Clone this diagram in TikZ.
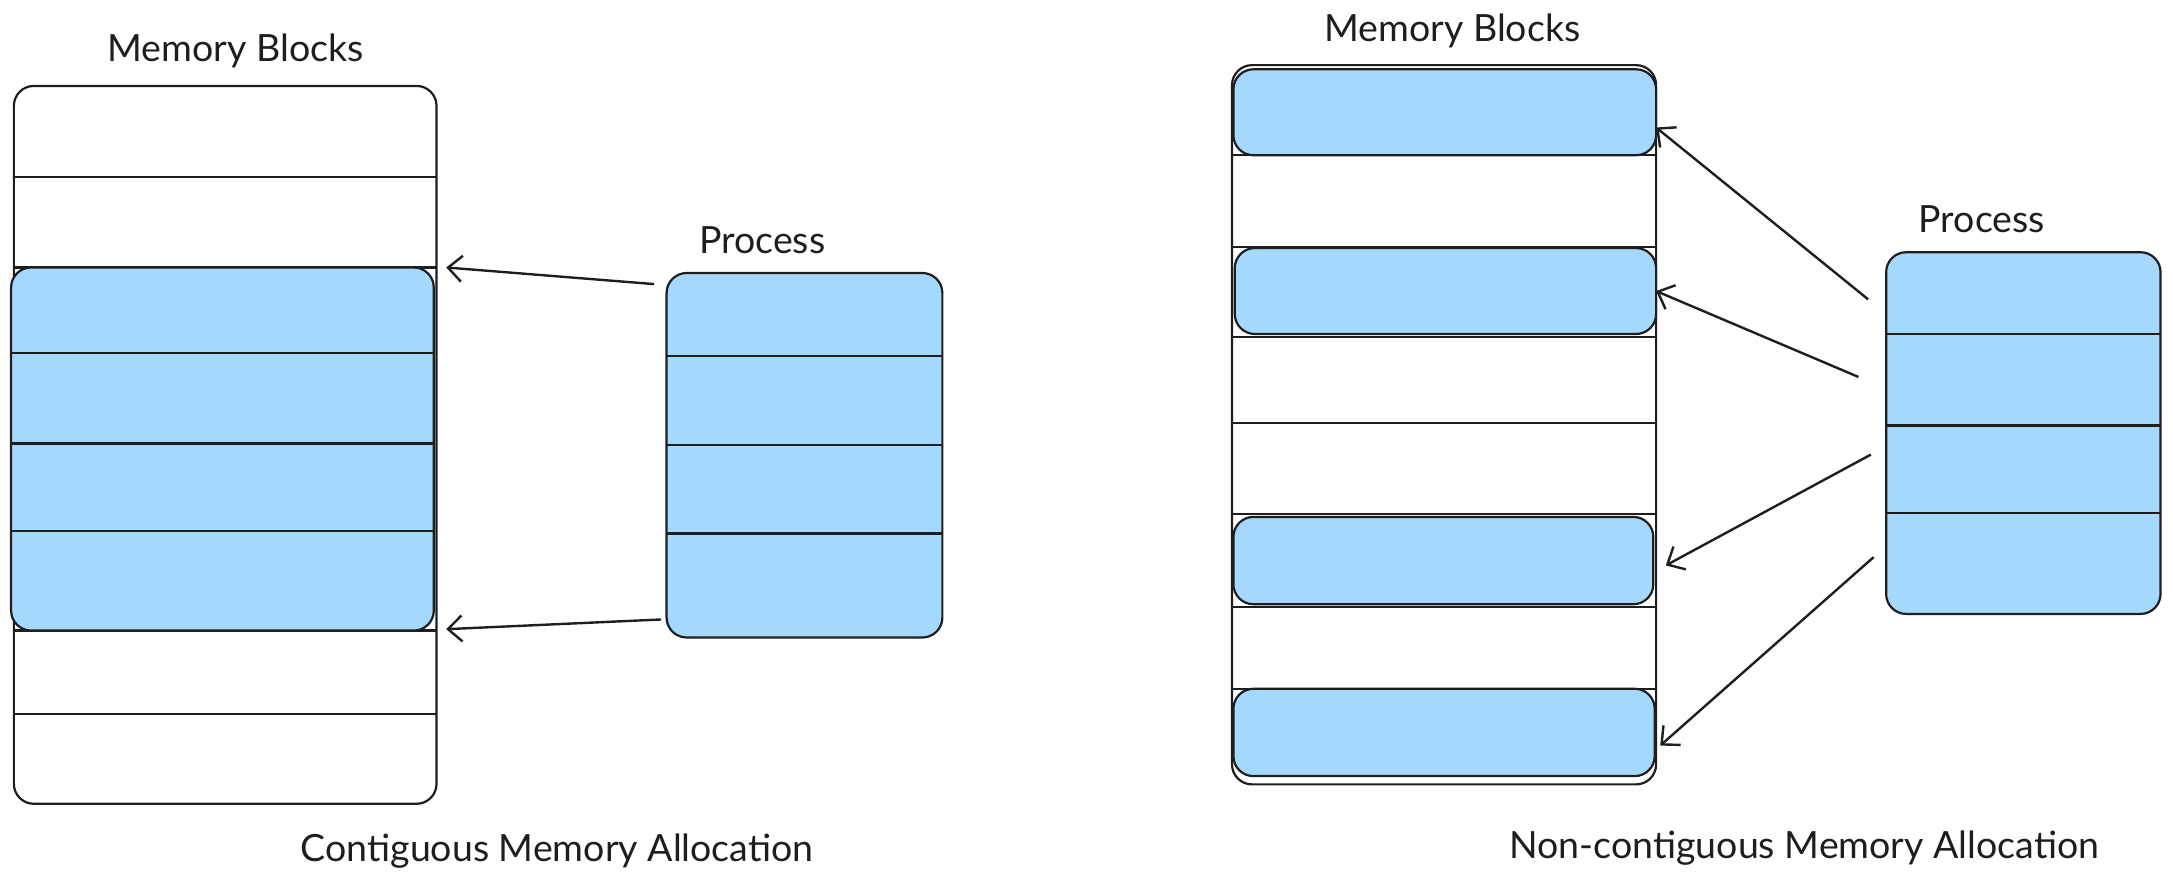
\documentclass[tikz,border=0pt]{standalone}
\usepackage{fontspec}
\setmainfont{Lato}
\usetikzlibrary{arrows.meta}
\definecolor{ink}{HTML}{1E1E1E}
\definecolor{memblue}{HTML}{A5D8FF}
\tikzset{
  box/.style={draw=ink, line width=2.2pt, rounded corners=20pt},
  bluebox/.style={box, fill=memblue},
  row/.style={draw=ink, line width=2.2pt},
  link/.style={draw=ink, line width=2.4pt, -{Straight Barb[length=14pt,width=26pt,line width=2.4pt]}},
  title/.style={font=\fontsize{37.5}{40}\selectfont, text=ink, inner sep=0pt},
}
\begin{document}
\begin{tikzpicture}[x=1.386pt, y=-1.386pt]
\useasboundingbox (0,0) rectangle (1568,640);

% ---------- Left: contiguous ----------
\node[title] (lmt) at (170,37) {Memory Blocks};
\draw[box, fill=white] (10,62) rectangle (315,580);
\foreach \y in {128,193,455,515} \draw[row] (10,\y) -- (315,\y);
\draw[bluebox] (8,193) rectangle (313,455);
\foreach \y in {255,320,383} \draw[row] (8,\y) -- (313,\y);

\node[title] (lpt) at (550,173) {Process};
\draw[bluebox] (481,197) rectangle (680,460);
\foreach \y in {257,321,385} \draw[row] (481,\y) -- (680,\y);

\coordinate (lp1) at (472,205);
\coordinate (lm1) at (322,193);
\coordinate (lp2) at (477,447);
\coordinate (lm2) at (322,454);
\draw[link] (lp1) -- (lm1);
\draw[link] (lp2) -- (lm2);

\node[title] (lcap) at (402,614) {Contiguous Memory Allocation};

% ---------- Right: non-contiguous ----------
\node[title] (rmt) at (1048,22) {Memory Blocks};
\draw[box, fill=white] (889,47) rectangle (1195,566);
\foreach \y in {112,178,243,305,371,438,497} \draw[row] (889,\y) -- (1195,\y);
\draw[bluebox] (890,50) rectangle (1195,112);
\draw[bluebox] (891,179) rectangle (1195,241);
\draw[bluebox] (890,373) rectangle (1193,436);
\draw[bluebox] (890,497) rectangle (1194,560);

\node[title] (rpt) at (1430,158) {Process};
\draw[bluebox] (1361,182) rectangle (1559,443);
\foreach \y in {241,307,370} \draw[row] (1361,\y) -- (1559,\y);

\coordinate (rp1) at (1348,216);
\coordinate (rm1) at (1195,92);
\coordinate (rp2) at (1341,272);
\coordinate (rm2) at (1195,210);
\coordinate (rp3) at (1350,328);
\coordinate (rm3) at (1202,408);
\coordinate (rp4) at (1352,402);
\coordinate (rm4) at (1198,538);
\draw[link] (rp1) -- (rm1);
\draw[link] (rp2) -- (rm2);
\draw[link] (rp3) -- (rm3);
\draw[link] (rp4) -- (rm4);

\node[title] (rcap) at (1302,612) {Non-contiguous Memory Allocation};
\end{tikzpicture}
\end{document}
